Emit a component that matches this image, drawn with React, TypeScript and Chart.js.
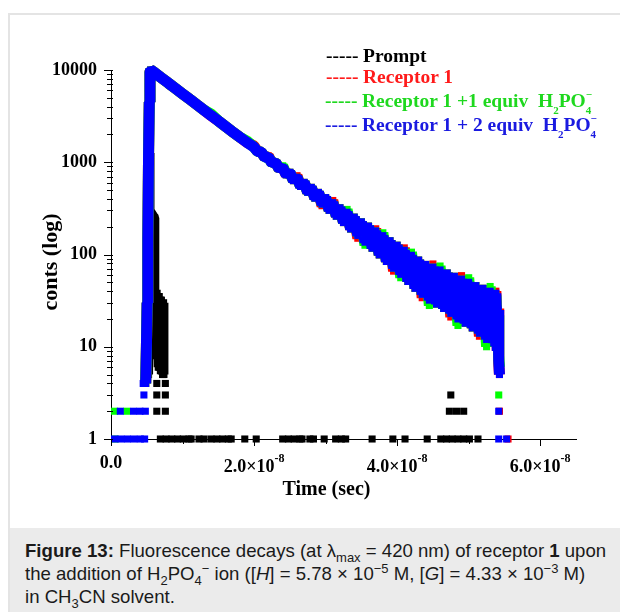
import React, { useEffect, useRef } from 'react';
import { Chart, registerables } from 'chart.js';

Chart.register(...registerables);

// ---------- data (time in ns, counts per channel) ----------
const decayTimeNs = [
  4.85, 4.95, 5.05, 5.15, 5.25, 5.35, 5.45, 5.55,
  6, 7, 8, 9, 10, 11, 12, 13, 14, 15, 16, 17, 18, 19,
  20, 20.5, 21, 21.5, 22, 22.5, 23, 23.5, 24, 24.5, 25, 25.5, 26, 26.5, 27, 27.5, 28, 28.5, 29, 29.5,
  30, 30.5, 31, 31.5, 32, 32.5, 33, 33.5, 34, 34.5, 35, 35.5, 36, 36.5, 37, 37.5, 38, 38.5, 39, 39.5,
  40, 40.5, 41, 41.5, 42, 42.5, 43, 43.5, 44, 44.5, 45, 45.5, 46, 46.5, 47, 47.5, 48, 48.5, 49, 49.5,
  50, 50.5, 51, 51.5, 52, 52.5, 53, 53.5,
  53.8, 54.0, 54.1, 54.2, 54.3,
];

const blueCounts = [
  4, 10, 30, 150, 1200, 4500, 9500, 10000,
  9500, 8280, 7230, 6320, 5520, 4820, 4210, 3680, 3210, 2810, 2450, 2140, 1870, 1640,
  1458, 1309, 1285, 1132, 1134, 978, 1001, 846, 882, 731, 778, 632, 686, 546, 605, 472, 534, 408, 471, 352,
  414, 301, 365, 260, 321, 222, 287, 189, 254, 161, 226, 136, 203, 117, 180, 99, 160, 84, 141, 71,
  126, 61, 111, 51, 98, 43, 87, 37, 78, 32, 73, 29, 68, 26, 63, 23, 58, 20, 54, 18,
  50, 16, 46, 14, 43, 12, 40, 11,
  38, 9, 25, 7, 5,
];

const greenCounts = [
  4, 10, 30, 150, 1200, 4500, 9500, 10000,
  9500, 8280, 7230, 6320, 5520, 4820, 4210, 3680, 3330, 2810, 2450, 2140, 1870, 1700,
  1458, 1309, 1285, 1132, 1134, 978, 1001, 846, 915, 731, 778, 632, 686, 546, 605, 472, 534, 408, 471, 352,
  414, 301, 365, 260, 321, 222, 308, 189, 254, 161, 226, 126, 203, 117, 180, 99, 172, 84, 141, 71,
  126, 56, 111, 51, 106, 43, 87, 37, 78, 28, 73, 29, 75, 26, 63, 23, 58, 17, 54, 18,
  56, 16, 46, 14, 43, 10, 45, 11,
  36, 10, 22, 8, 6,
];

const redCounts = [
  4, 10, 30, 150, 1200, 4500, 9500, 10000,
  9500, 8280, 7230, 6320, 5520, 4820, 4210, 3680, 3210, 2810, 2450, 2140, 1870, 1640,
  1500, 1309, 1285, 1132, 1170, 978, 1001, 846, 882, 731, 778, 632, 715, 546, 605, 472, 534, 408, 471, 338,
  414, 301, 385, 260, 321, 222, 287, 189, 254, 150, 226, 136, 203, 117, 190, 99, 160, 84, 141, 66,
  126, 61, 118, 51, 98, 43, 87, 34, 78, 32, 79, 29, 68, 26, 63, 21, 58, 20, 59, 18,
  50, 16, 46, 13, 43, 12, 40, 11,
  40, 9, 26, 7, 5,
];

// isolated low-count channels
const blueSparseTimeNs = [0.5, 1.4, 2.3, 3.2, 4.1, 4.7, 1.3, 3.15, 4.05, 4.8, 4.6, 4.5, 54.2, 54.2, 55.3];
const blueSparseCounts = [1, 1, 1, 1, 1, 1, 2, 2, 2, 2, 3, 4, 2, 1, 1];
const greenSparseTimeNs = [0.5, 2.2, 54.2, 0.6];
const greenSparseCounts = [2, 2, 3, 1];
const redSparseTimeNs = [55.5, 54.3];
const redSparseCounts = [1, 2];

// prompt (instrument response)
const promptTimeNs = [5.25, 5.42, 5.45, 6.1, 6.1, 6.15, 6.3, 6.45, 6.6, 6.75, 6.9, 7.05, 7.2, 7.35, 7.4];
const promptCounts = [5, 1260, 300, 250, 120, 40, 8, 38, 6, 35, 5.5, 32, 5, 30, 5];
const promptSparseTimeNs = [
  6.4, 7.6, 6.4, 7.6, 6.4, 7.6, 47.5, 47.3, 48.3, 49.3,
  6.9, 7.7, 8.5, 9.3, 10.1, 10.9, 11.2, 12.3, 13.0, 14.0, 14.8, 15.6, 16.4, 16.8, 18.7, 20.3,
  24.0, 24.8, 25.6, 26.4, 26.7, 27.8, 28.3, 29.8, 31.4, 32.2, 32.8, 36.5, 39.4, 41.1, 44.2,
  46.1, 46.9, 47.7, 48.5, 49.3, 50.1, 51.3,
];
const promptSparseCounts = [
  4, 4, 3, 3, 2, 2, 3, 2, 2, 2,
  1, 1, 1, 1, 1, 1, 1, 1, 1, 1, 1, 1, 1, 1, 1, 1,
  1, 1, 1, 1, 1, 1, 1, 1, 1, 1, 1, 1, 1, 1, 1,
  1, 1, 1, 1, 1, 1, 1,
];

// axis ticks / labels
const xMajorTicksNs = [0, 20, 40, 60];
const xTickMantissas = ['0.0', '2.0', '4.0', '6.0'];
const xTickExponent = '-8';
const yDecades = [1, 10, 100, 1000, 10000];
const yTickLabels = ['1', '10', '100', '1000', '10000'];

const SERIF = "'Liberation Serif', 'Times New Roman', serif";
const BLUE = '#0000ff';
const GREEN = '#00ff00';
const RED = '#ff0000';
const BLACK = '#000000';

function pts(times: number[], counts: number[]) {
  return times.map((t, i) => ({ x: t, y: counts[i] }));
}

function lineSet(label: string, times: number[], counts: number[], color: string, width: number) {
  return {
    label,
    data: pts(times, counts),
    showLine: true,
    borderColor: color,
    backgroundColor: color,
    borderWidth: width,
    borderJoinStyle: 'bevel',
    pointStyle: 'rect',
    pointRadius: 5,
    pointBorderWidth: 0,
    pointBackgroundColor: color,
    tension: 0,
    clip: false,
  };
}

function pointSet(label: string, times: number[], counts: number[], color: string) {
  return {
    label,
    data: pts(times, counts),
    showLine: false,
    pointStyle: 'rect',
    pointRadius: 5,
    pointBorderWidth: 0,
    pointBackgroundColor: color,
    backgroundColor: color,
    borderColor: color,
    clip: false,
  };
}

function isInteger(v: number) {
  return Math.abs(v - Math.round(v)) < 1e-6;
}

const axisDecor = {
  id: 'axisDecor',
  afterDraw(chart: any) {
    const { ctx, chartArea } = chart;
    const xs = chart.scales.x;
    const ys = chart.scales.y;
    ctx.save();
    ctx.strokeStyle = '#000';
    ctx.lineWidth = 1;
    // y tick marks (log: 1..9 per decade)
    ys.ticks.forEach((t: any) => {
      const v = t.value;
      const e = Math.floor(Math.log10(v) + 1e-9);
      const m = v / Math.pow(10, e);
      if (!isInteger(m)) return;
      const major = isInteger(Math.log10(v));
      const py = Math.round(ys.getPixelForValue(v)) + 0.5;
      ctx.beginPath();
      ctx.moveTo(chartArea.left - (major ? 7 : 4), py);
      ctx.lineTo(chartArea.left + 2, py);
      ctx.stroke();
    });
    // x tick marks
    xs.ticks.forEach((t: any) => {
      const major = xMajorTicksNs.includes(t.value);
      const px = Math.round(xs.getPixelForValue(t.value)) + 0.5;
      ctx.beginPath();
      ctx.moveTo(px, chartArea.bottom);
      ctx.lineTo(px, chartArea.bottom + (major ? 7 : 5));
      ctx.stroke();
    });
    // x tick labels with superscript exponent
    ctx.fillStyle = '#000';
    ctx.textBaseline = 'alphabetic';
    ctx.textAlign = 'left';
    xMajorTicksNs.forEach((v, i) => {
      const px = xs.getPixelForValue(v);
      if (v === 0) {
        ctx.font = `bold 18px ${SERIF}`;
        const w = ctx.measureText(xTickMantissas[i]).width;
        ctx.fillText(xTickMantissas[i], px - w / 2, chartArea.bottom + 29);
        return;
      }
      const main = xTickMantissas[i] + '\u00d710';
      ctx.font = `bold 18px ${SERIF}`;
      const mw = ctx.measureText(main).width;
      ctx.font = `bold 12px ${SERIF}`;
      const sw = ctx.measureText(xTickExponent).width;
      const x0 = px - (mw + sw) / 2;
      const base = chartArea.bottom + 33;
      ctx.font = `bold 18px ${SERIF}`;
      ctx.fillText(main, x0, base);
      ctx.font = `bold 12px ${SERIF}`;
      ctx.fillText(xTickExponent, x0 + mw, base - 10);
    });
    // axis titles
    ctx.font = `bold 20px ${SERIF}`;
    ctx.textAlign = 'center';
    ctx.fillText('Time (sec)', 316.5, chartArea.bottom + 56);
    ctx.save();
    ctx.font = `bold 22px ${SERIF}`;
    ctx.translate(41, 247);
    ctx.rotate(-Math.PI / 2);
    ctx.textBaseline = 'middle';
    ctx.fillText('conts (log)', 0, 0);
    ctx.restore();
    ctx.restore();
  },
};

const legendRows = [
  { label: 'Prompt', color: '#000000', ion: false, top: 46, dashLeft: 326 },
  { label: 'Receptor 1', color: '#ff1a1a', ion: false, top: 67, dashLeft: 326 },
  { label: 'Receptor 1 +1 equiv', color: '#1ed81e', ion: true, top: 91, dashLeft: 325 },
  { label: 'Receptor 1 + 2 equiv', color: '#1a1ae0', ion: true, top: 115, dashLeft: 325 },
];

function Ion() {
  return (
    <span>
      H<span style={{ fontSize: 11, position: 'relative', top: 7, lineHeight: 0 }}>2</span>PO
      <span style={{ display: 'inline-block', position: 'relative', fontSize: 11, lineHeight: '11px' }}>
        <span style={{ position: 'relative', top: 7 }}>4</span>
        <span style={{ position: 'absolute', left: 0, top: -9 }}>{'\u2212'}</span>
      </span>
    </span>
  );
}

const sub = { fontSize: 13, position: 'relative' as const, top: 5, lineHeight: 0 };
const sup = { fontSize: 13, position: 'relative' as const, top: -7, lineHeight: 0 };

export default function App() {
  const ref = useRef<HTMLCanvasElement>(null);
  useEffect(() => {
    const chart = new Chart(ref.current as HTMLCanvasElement, {
      type: 'scatter',
      data: {
        datasets: [
          lineSet('Receptor 1 + 2 equiv H2PO4-', decayTimeNs, blueCounts, BLUE, 11),
          pointSet('Receptor 1 + 2 equiv (low counts)', blueSparseTimeNs, blueSparseCounts, BLUE),
          lineSet('Receptor 1 +1 equiv H2PO4-', decayTimeNs, greenCounts, GREEN, 11),
          pointSet('Receptor 1 +1 equiv (low counts)', greenSparseTimeNs, greenSparseCounts, GREEN),
          lineSet('Receptor 1', decayTimeNs, redCounts, RED, 11),
          pointSet('Receptor 1 (low counts)', redSparseTimeNs, redSparseCounts, RED),
          lineSet('Prompt', promptTimeNs, promptCounts, BLACK, 9),
          pointSet('Prompt (low counts)', promptSparseTimeNs, promptSparseCounts, BLACK),
        ] as any,
      },
      options: {
        responsive: false,
        animation: false,
        events: [],
        layout: { padding: { left: 0, top: 55, right: 44, bottom: 29 } },
        plugins: { legend: { display: false }, tooltip: { enabled: false } },
        scales: {
          x: {
            type: 'linear',
            min: 0,
            max: 65,
            ticks: { display: false, stepSize: 10, includeBounds: false },
            grid: { display: false },
            border: { display: true, color: '#000', width: 1 },
            afterFit: (s: any) => { s.height = 60; },
          },
          y: {
            type: 'logarithmic',
            min: 1,
            max: 10000,
            ticks: {
              autoSkip: false,
              padding: 8,
              color: '#000',
              font: { family: SERIF, size: 18, weight: 'bold' },
              callback: (v: any) => {
                const i = yDecades.findIndex((d) => Math.abs(d - Number(v)) < 1e-6);
                return i >= 0 ? yTickLabels[i] : '';
              },
            },
            grid: { display: false, drawTicks: true, tickLength: 6 },
            border: { display: true, color: '#000', width: 1 },
            afterFit: (s: any) => { s.width = 101; },
          },
        },
      } as any,
      plugins: [axisDecor],
    });
    return () => chart.destroy();
  }, []);

  return (
    <div style={{ position: 'absolute', left: 0, top: 0, width: 620, height: 612, overflow: 'hidden', background: '#fff' }}>
      <div style={{ position: 'absolute', left: 8, top: 13, width: 660, height: 660, borderLeft: '2px solid #e4e4e4', borderTop: '2px solid #e4e4e4', boxSizing: 'border-box' }} />
      <canvas ref={ref} width={610} height={513} style={{ position: 'absolute', left: 10, top: 15 }} />
      {legendRows.map((r) => (
        <div key={r.label} style={{ position: 'absolute', left: r.dashLeft, top: r.top, fontFamily: SERIF, fontWeight: 'bold', fontSize: 19.5, lineHeight: '19px', color: r.color, whiteSpace: 'pre' }}>
          <span style={{ display: 'inline-block', width: 37 }}>-----</span>
          {r.label}
          {r.ion ? '  ' : ''}
          {r.ion ? <Ion /> : null}
        </div>
      ))}
      <div style={{ position: 'absolute', left: 10, top: 528, width: 610, height: 84, background: '#ebebeb', boxSizing: 'border-box', padding: '11px 0 0 15px', fontFamily: "'Liberation Sans', Arial, sans-serif", fontSize: 18.6, lineHeight: '23px', color: '#1a1a1a', whiteSpace: 'nowrap' }}>
        <div><b>Figure 13:</b> Fluorescence decays (at λ<span style={sub}>max</span> = 420 nm) of receptor <b>1</b> upon</div>
        <div>the addition of H<span style={sub}>2</span>PO<span style={sub}>4</span><span style={sup}>−</span> ion ([<i>H</i>] = 5.78 × 10<span style={sup}>−5</span> M, [<i>G</i>] = 4.33 × 10<span style={sup}>−3</span> M)</div>
        <div>in CH<span style={sub}>3</span>CN solvent.</div>
      </div>
    </div>
  );
}
